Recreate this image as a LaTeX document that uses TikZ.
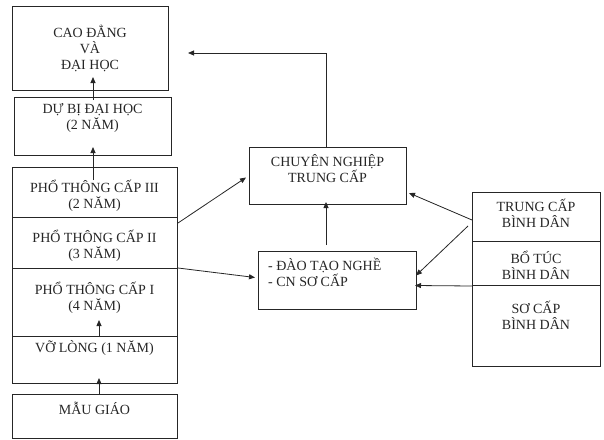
\documentclass[tikz,border=0pt]{standalone}
\usepackage{fontspec}
\setmainfont{Liberation Serif}
\usetikzlibrary{arrows.meta,calc}
\begin{document}
\begin{tikzpicture}[x=1pt,y=-1pt,
  box/.style={draw=black!85, line width=1pt, anchor=north west, inner sep=0pt},
  lbl/.style={align=center, inner sep=0pt, text=black!85, font=\fontsize{14}{16}\selectfont},
  arr/.style={draw=black!85, line width=0.8pt, -{Triangle[length=6pt,width=5pt]}}]
\useasboundingbox (0,0) rectangle (604,439);
% left column
\node[box, minimum width=156pt, minimum height=84pt] (cao) at (12,6) {};
\node[box, minimum width=157pt, minimum height=58pt] (dubi) at (14,97) {};
\node[box, minimum width=165pt, minimum height=50pt] (pt3) at (12,167) {};
\node[box, minimum width=165pt, minimum height=51pt] (pt2) at (12,217) {};
\node[box, minimum width=165pt, minimum height=68pt] (pt1) at (12,268) {};
\node[box, minimum width=165pt, minimum height=47pt] (vl) at (12,336) {};
\node[box, minimum width=165pt, minimum height=44pt] (mg) at (12,394) {};
% middle
\node[box, minimum width=157pt, minimum height=57pt] (cn) at (249,147) {};
\node[box, minimum width=158pt, minimum height=58pt] (dt) at (258,251) {};
% right column
\node[box, minimum width=128pt, minimum height=49pt] (tc) at (472,192) {};
\node[box, minimum width=128pt, minimum height=44pt] (bt) at (472,241) {};
\node[box, minimum width=128pt, minimum height=81pt] (sc) at (472,285) {};
% labels
\node[lbl] (caoT) at (90,48) {CAO ĐẲNG\\VÀ\\ĐẠI HỌC};
\node[lbl] (dubiT) at (92.5,118) {DỰ BỊ ĐẠI HỌC\\(2 NĂM)};
\node[lbl] (pt3T) at (94.5,196) {PHỔ THÔNG CẤP III\\(2 NĂM)};
\node[lbl] (pt2T) at (94.5,246) {PHỔ THÔNG CẤP II\\(3 NĂM)};
\node[lbl] (pt1T) at (94.5,298) {PHỔ THÔNG CẤP I\\(4 NĂM)};
\node[lbl] (vlT) at (94.5,348) {VỠ LÒNG (1 NĂM)};
\node[lbl] (mgT) at (94.5,408) {MẪU GIÁO};
\node[lbl] (cnT) at (327.5,169) {CHUYÊN NGHIỆP\\TRUNG CẤP};
\node[lbl, align=left, anchor=west] (dtT) at (268,272) {- ĐÀO TẠO NGHỀ\\- CN SƠ CẤP};
\node[lbl] (tcT) at (536,213) {TRUNG CẤP\\BÌNH DÂN};
\node[lbl] (btT) at (536,265) {BỔ TÚC\\BÌNH DÂN};
\node[lbl] (scT) at (536,315) {SƠ CẤP\\BÌNH DÂN};
% connectors
\coordinate (topend) at (188,53);
\draw[arr] ($(dubi.north)+(0,3)$) -- ($(dubi.north)+(0,-20)$);
\draw[arr] ($(pt3.north)+(-2,13)$) -- ($(pt3.north)+(-2,-20)$);
\draw[arr] ($(vl.north)+(4,1)$) -- ($(vl.north)+(4,-16)$);
\draw[arr] ($(mg.north)+(4,0)$) -- ($(mg.north)+(4,-16)$);
\draw[arr] ($(cn.north)+(-2,0)$) |- (topend);
\draw[arr] ($(dt.north -| cn.north)+(-2,-6)$) -- ($(cn.south)+(-2,-3)$);
\draw[arr] ($(pt2.north east)+(0,6)$) -- ($(cn.west)+(-3,1.5)$);
\draw[arr] (pt1.north east) -- ($(dt.west)+(-3,-3)$);
\draw[arr] ($(tc.west)+(0,3)$) -- ($(cn.south east)+(2,-12)$);
\draw[arr] ($(tc.south west)+(-4,-16)$) -- ($(dt.east)+(-1,-5)$);
\draw[arr] (bt.south west) -- ($(dt.east)+(-2,5)$);
\end{tikzpicture}
\end{document}
